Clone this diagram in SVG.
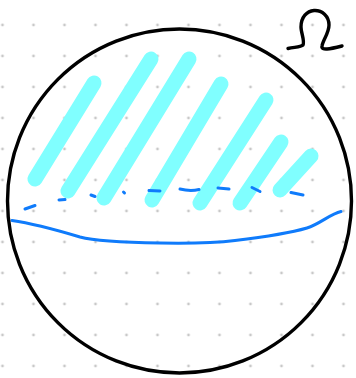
<svg xmlns="http://www.w3.org/2000/svg" width="356" height="378" viewBox="0 0 356 378">
<defs>
<pattern id="dots" x="2.5" y="25" width="31" height="31" patternUnits="userSpaceOnUse">
<circle cx="0" cy="0" r="1.4" fill="#c8c8c8"/>
<circle cx="31" cy="0" r="1.4" fill="#c8c8c8"/>
<circle cx="0" cy="31" r="1.4" fill="#c8c8c8"/>
<circle cx="31" cy="31" r="1.4" fill="#c8c8c8"/>
</pattern>
<style>
.hatch{stroke:#80ffff;stroke-width:15;stroke-linecap:round;fill:none}
.blue{stroke:#0f7bfb;stroke-width:3;stroke-linecap:round;fill:none}
.ink{stroke:#000;stroke-width:3.4;stroke-linecap:round;stroke-linejoin:round;fill:none}
</style>
</defs>
<rect width="356" height="378" fill="#fff"/>
<rect width="356" height="378" fill="url(#dots)"/>
<g id="hatching">
<line class="hatch" x1="94" y1="83" x2="35" y2="179"/>
<line class="hatch" x1="151" y1="59" x2="68" y2="191"/>
<line class="hatch" x1="189" y1="59" x2="104" y2="198"/>
<line class="hatch" x1="221" y1="84" x2="152" y2="200"/>
<line class="hatch" x1="266" y1="100" x2="200" y2="203"/>
<line class="hatch" x1="281" y1="142" x2="240" y2="203"/>
<line class="hatch" x1="311" y1="156" x2="280" y2="190"/>
</g>
<g id="dashed-line">
<path class="blue" d="M25 209 L35 205.5"/>
<path class="blue" d="M59 200 L65 199.5"/>
<path class="blue" d="M91 195 L95 196.5"/>
<path class="blue" d="M123.5 192 L124.5 193"/>
<path class="blue" d="M149 190.5 L160 191"/>
<path class="blue" d="M180 189 Q190 191.5 199 189.5"/>
<path class="blue" d="M218 188 L229 189"/>
<path class="blue" d="M252 187.5 L260 191.5"/>
<path class="blue" d="M291 192.5 L303 195"/>
</g>
<g id="solid-line">
<path class="blue" d="M12 220.5 C30 223 60 231 80 237 C95 241 130 242.5 160 243 C190 243.5 215 243 235 240.5 C260 237.5 290 233 307 228 C320 224 330 214 341 211.5"/>
</g>
<g id="sphere">
<circle class="ink" cx="179.5" cy="201" r="172"/>
</g>
<g id="omega">
<path class="ink" d="M288 48.5 C295 47 301 47 303 45 C305 41 301 33 301 27 C301 17 307 11 314 10.5 C322 10 329 16 329 25 C329 33 323 40 322 46 C321 51 330 49 342 46"/>
</g>
</svg>
